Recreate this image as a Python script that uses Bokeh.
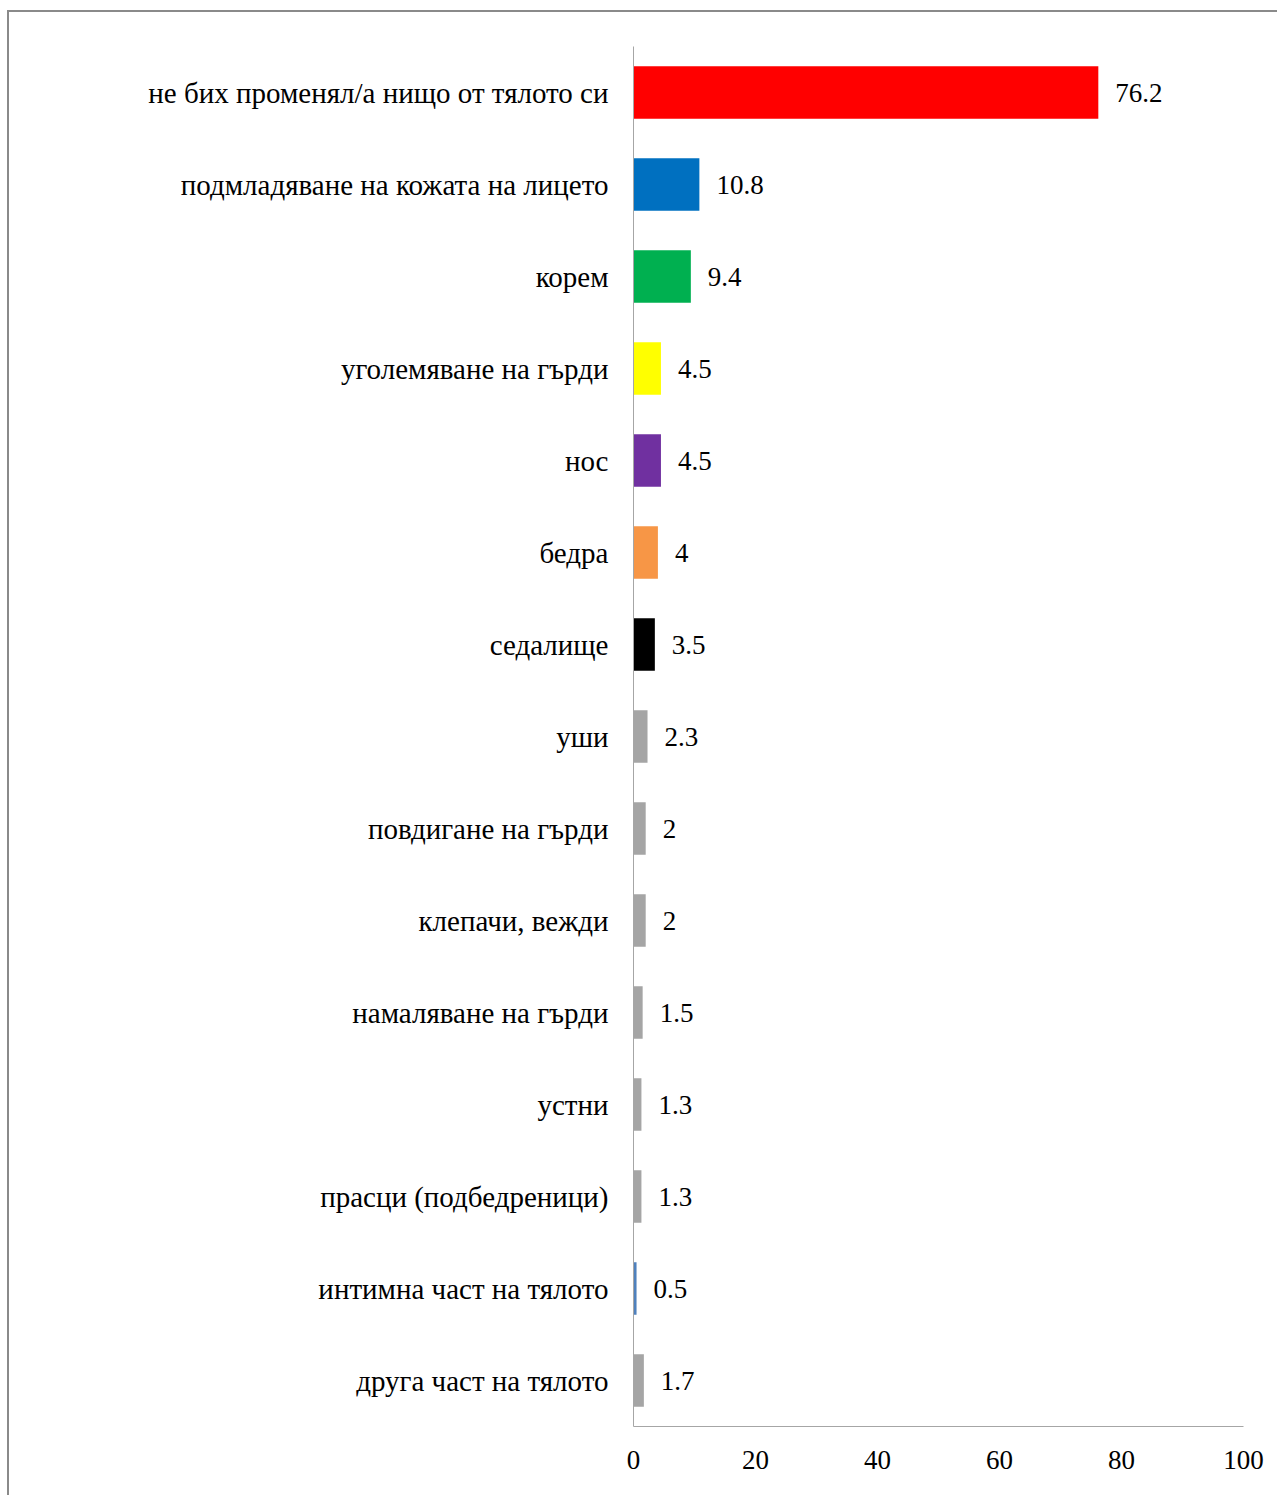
from bokeh.plotting import figure
from bokeh.models import ColumnDataSource, FactorRange, Range1d, FixedTicker, LabelSet
from bokeh.embed import file_html
from bokeh.resources import INLINE

categories = [
    "не бих променял/а нищо от тялото си",
    "подмладяване на кожата на лицето",
    "корем",
    "уголемяване на гърди",
    "нос",
    "бедра",
    "седалище",
    "уши",
    "повдигане на гърди",
    "клепачи, вежди",
    "намаляване на гърди",
    "устни",
    "прасци (подбедреници)",
    "интимна част на тялото",
    "друга част на тялото",
]
values = [76.2, 10.8, 9.4, 4.5, 4.5, 4, 3.5, 2.3, 2, 2, 1.5, 1.3, 1.3, 0.5, 1.7]
value_labels = ["76.2", "10.8", "9.4", "4.5", "4.5", "4", "3.5", "2.3", "2", "2", "1.5", "1.3", "1.3", "0.5", "1.7"]
colors = ["#FF0000", "#0070C0", "#00B050", "#FFFF00", "#7030A0", "#F79646", "#000000",
          "#A5A5A5", "#A5A5A5", "#A5A5A5", "#A5A5A5", "#A5A5A5", "#A5A5A5", "#4F81BD", "#A5A5A5"]
x_ticks = [0, 20, 40, 60, 80, 100]

FONT = "Liberation Serif"
FS = "27px"

src = ColumnDataSource(dict(cat=categories, val=values, lab=value_labels, col=colors))

p = figure(
    width=1270, height=1485,
    y_range=FactorRange(factors=list(reversed(categories)), range_padding=0),
    x_range=Range1d(0, 100),
    output_backend="svg", toolbar_location=None,
    min_border_left=624, min_border_right=36, min_border_top=34, min_border_bottom=71,
)
p.styles = {"margin-left": "7px", "margin-top": "10px",
            "border-left": "2px solid #8a8a8a", "border-top": "2px solid #8a8a8a"}

p.hbar(y="cat", right="val", left=0, height=0.57, fill_color="col", line_color=None, source=src)

labels = LabelSet(x="val", y="cat", text="lab", source=src, x_offset=17, y_offset=0,
                  text_baseline="middle", text_align="left",
                  text_font=FONT, text_font_size=FS, text_color="#000000")
p.add_layout(labels)

p.outline_line_color = None
p.xgrid.grid_line_color = None
p.ygrid.grid_line_color = None

p.xaxis.ticker = FixedTicker(ticks=x_ticks)
p.xaxis.major_tick_line_color = None
p.xaxis.minor_tick_line_color = None
p.xaxis.axis_line_color = "#A6A6A6"
p.xaxis.axis_line_width = 1
p.xaxis.major_label_text_font = FONT
p.xaxis.major_label_text_font_size = FS
p.xaxis.major_label_text_color = "#000000"
p.xaxis.major_label_standoff = 18

p.yaxis.major_tick_line_color = None
p.yaxis.minor_tick_line_color = None
p.yaxis.axis_line_color = "#A6A6A6"
p.yaxis.axis_line_width = 1
p.yaxis.major_label_text_font = FONT
p.yaxis.major_label_text_font_size = "29px"
p.yaxis.major_label_text_color = "#000000"
p.yaxis.major_label_standoff = 19

open("out.html", "w").write(file_html(p, INLINE))
